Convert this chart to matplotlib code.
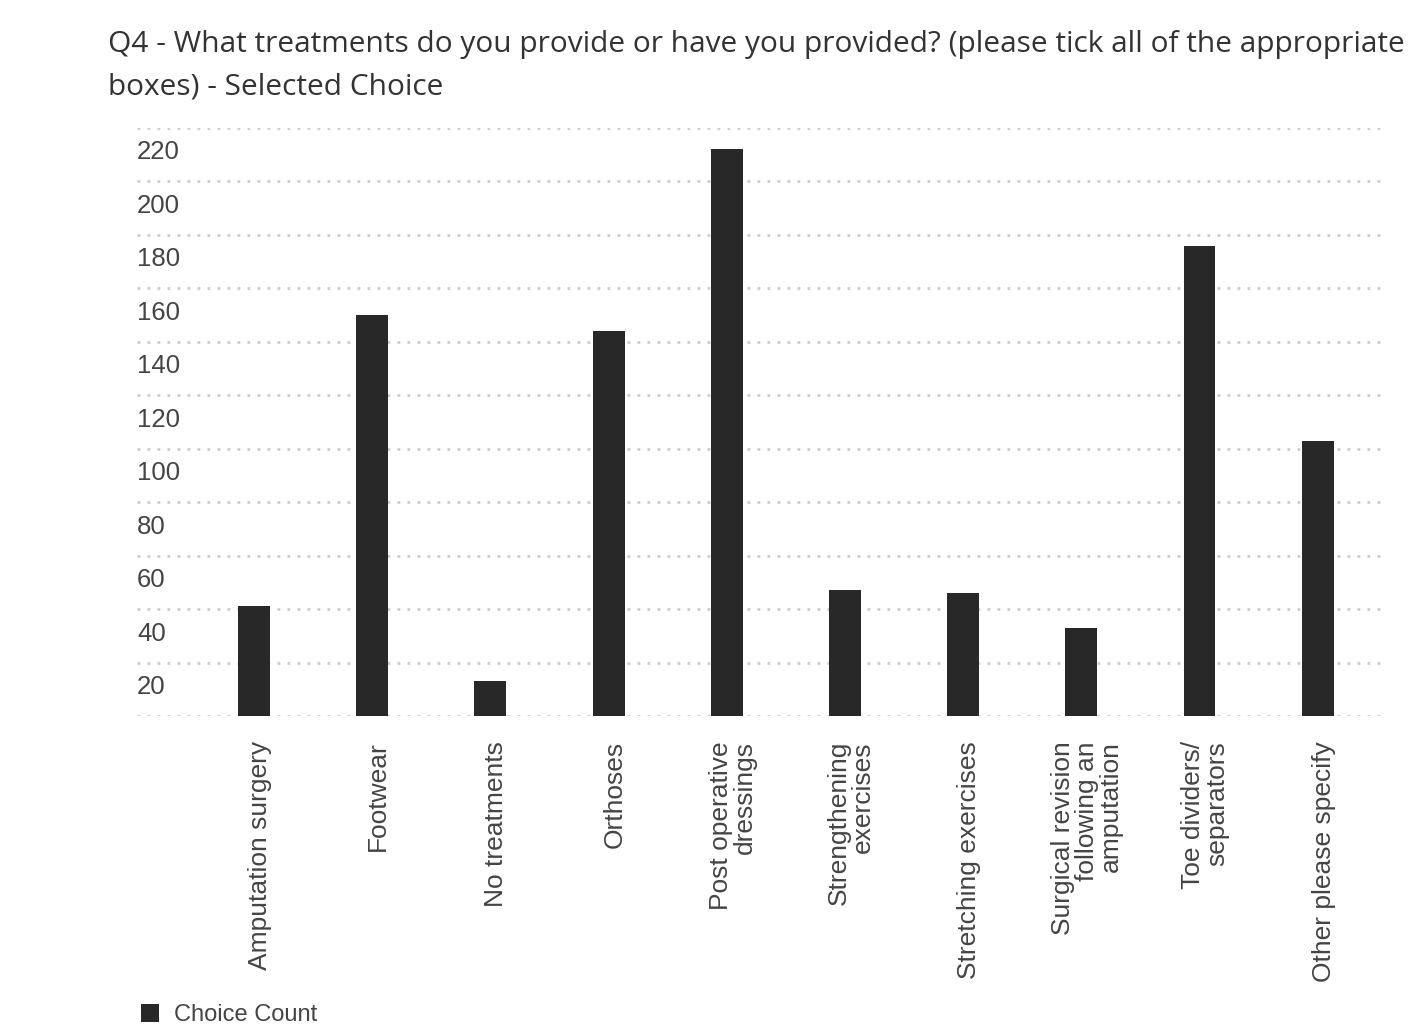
import numpy as np
import matplotlib
matplotlib.use('Agg')
import matplotlib.pyplot as plt
from matplotlib.patches import Patch
from matplotlib.transforms import ScaledTranslation

# data
categories = ['Amputation surgery', 'Footwear', 'No treatments', 'Orthoses',
              'Post operative\ndressings', 'Strengthening\nexercises',
              'Stretching exercises', 'Surgical revision\nfollowing an\namputation',
              'Toe dividers/\nseparators', 'Other please specify']
counts = [41, 150, 13, 144, 212, 47, 46, 33, 176, 103]
yticks = list(range(0, 221, 20))
ytick_labels = [''] + [str(v) for v in yticks[1:]]

title = ('Q4 - What treatments do you provide or have you provided? (please tick all of the appropriate\n'
         'boxes) - Selected Choice')

plt.rcParams['font.family'] = ['Liberation Sans', 'DejaVu Sans']

fig = plt.figure(figsize=(14.1, 10.27), dpi=100)
ax = fig.add_axes([0.0972, 0.3028, 0.8851, 0.5726])

bar_color = '#282828'
x = np.arange(len(categories))
ax.bar(x, counts, width=0.27, color=bar_color, zorder=2)

ax.set_xlim(-0.99, 9.57)
ax.set_ylim(0, 220)

# dotted horizontal gridlines
ax.set_yticks(yticks)
ax.set_yticklabels(ytick_labels, ha='left', va='center', fontsize=18.5, color='#444444')
ax.yaxis.grid(True, color='#cccccc', linewidth=2, linestyle=(0, (1, 2.6)), zorder=0)
ax.tick_params(axis='y', length=0, pad=0)
# tick labels sit just below their gridline
offset = ScaledTranslation(0.0, -0.245, fig.dpi_scale_trans)
for lab in ax.get_yticklabels():
    lab.set_transform(lab.get_transform() + offset)

ax.set_xticks(x)
ax.set_xticklabels(categories, rotation=90, ha='center', va='top',
                   multialignment='right', fontsize=19, color='#444444',
                   linespacing=1.0)
ax.tick_params(axis='x', length=0, pad=18)
xoff = ScaledTranslation(0.06, 0.0, fig.dpi_scale_trans)
for lab in ax.get_xticklabels():
    lab.set_transform(lab.get_transform() + xoff)

for s in ax.spines.values():
    s.set_visible(False)

fig.text(0.0766, 0.971, title, ha='left', va='top', fontsize=21.5,
         family=['Open Sans', 'DejaVu Sans'], color='#333333', linespacing=1.63)

fig.legend(handles=[Patch(facecolor=bar_color, label='Choice Count')],
           loc='center left', bbox_to_anchor=(0.088, 0.012), frameon=False,
           handlelength=0.8, handleheight=0.8, handletextpad=0.6,
           borderpad=0.2, fontsize=17, labelcolor='#444444')

fig.savefig('out.png', dpi=100, facecolor='white')
